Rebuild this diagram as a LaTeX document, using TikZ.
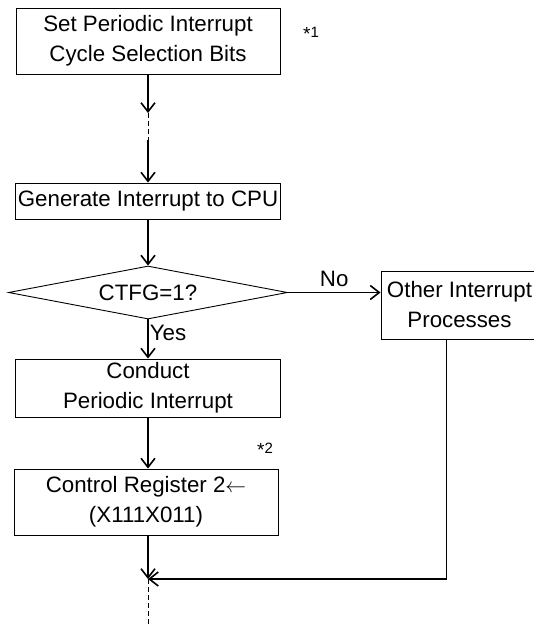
\documentclass[tikz,border=0pt]{standalone}
\usepackage{fontspec}
\setmainfont{Liberation Sans}
\usetikzlibrary{shapes.geometric, arrows.meta, positioning}
\newcommand{\notestar}{\raisebox{-3pt}{\fontsize{19}{19}\selectfont *}}

\begin{document}
\begin{tikzpicture}[
    x=1pt, y=-1pt,
    box/.style={rectangle, draw, line width=0.9pt, inner sep=0pt, align=center, font=\fontsize{22.3}{30}\selectfont},
    decision/.style={diamond, draw, line width=0.9pt, inner sep=0pt, aspect=5, font=\fontsize{22.3}{30}\selectfont},
    note/.style={inner sep=0pt, font=\fontsize{15}{17}\selectfont},
    lbl/.style={inner sep=0pt, font=\fontsize{22.3}{30}\selectfont},
    flow/.style={draw, line width=1.8pt, -{Straight Barb[length=9pt, width=14pt, line width=1.6pt]}},
    gap/.style={draw, line width=0.9pt, dashed, dash pattern=on 5pt off 3pt}
]
\useasboundingbox (0,0) rectangle (534,624);

% Boxes of the main flow
\node[box, minimum width=264, minimum height=66] (setbits) at (148, 41) {Set Periodic Interrupt\\Cycle Selection Bits};
\node[box, minimum width=265, minimum height=36] (gen) at (148, 201) {Generate Interrupt to CPU};
\node[decision, minimum width=279, minimum height=53] (ctfg) at (148, 292.5) {CTFG=1?};
\node[box, minimum width=265, minimum height=58] (conduct) at (148, 388) {Conduct\\Periodic Interrupt};
\node[box, minimum width=264, minimum height=66] (ctrl) at (146, 502) {Control Register 2$\leftarrow$\\(X111X011)};

% Side branch
\node[box, minimum width=157, minimum height=68] (other) at (459.5, 305) {Other Interrupt\\Processes};

% Notes
\node[note] (n1) at (311, 34) {\notestar1};
\node[note] (n2) at (265, 450) {\notestar2};

% Break points and join point
\coordinate (brk1) at (148, 113);
\coordinate (brk2) at (148, 140);
\coordinate (join) at (148, 579);
\coordinate (bottom) at (148, 624);

% Connectors
\path[flow] (setbits.south -| brk1) -- (brk1);
\path[gap] (brk1) -- (brk2);
\path[flow] (brk2) -- (brk2 |- gen.north);
\path[flow] (gen.south -| ctfg.north) -- (ctfg.north);
\path[flow] (ctfg.east) -- (other.west |- ctfg.east) node[lbl, midway, above=5pt] (no) {No};
\path[flow] (ctfg.south) -- (ctfg.south |- conduct.north) node[lbl, pos=0.35, right=1pt] (yes) {Yes};
\path[flow] (conduct.south -| join) -- (join |- ctrl.north);
\path[flow] (ctrl.south -| join) -- (join);
\path[flow] (other.south west) ++(66,0) |- (join);
\path[gap] (join) -- (bottom);

\end{tikzpicture}
\end{document}
